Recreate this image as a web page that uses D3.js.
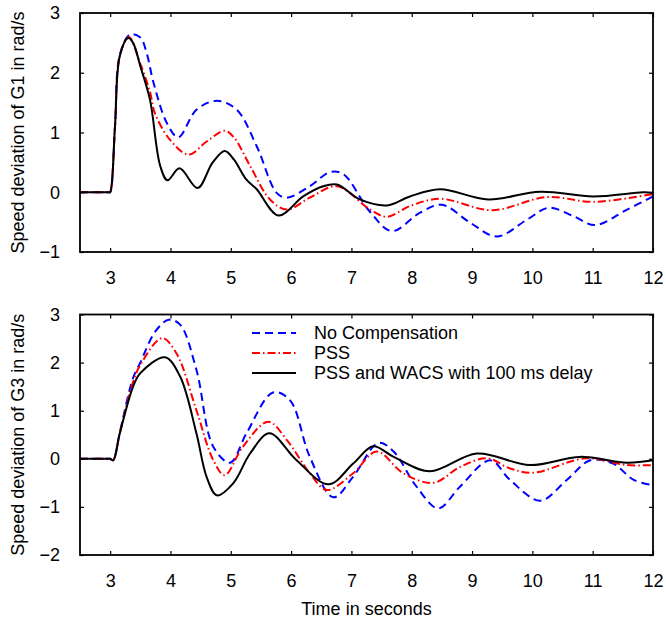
<!DOCTYPE html>
<html lang="en">
    <head>
        <meta charset="utf-8">
        <title>Speed deviation</title>
        <script type="text/javascript" src="https://cdn.jsdelivr.net/npm/d3@7"></script>
        <style type="text/css">
body { margin: 0; background: #ffffff; }
svg { font-family: "Liberation Sans", Arial, sans-serif; }
        </style>
    </head>
    <body>
        <script type="text/javascript">
var width=666;
var height=620;

// x ticks shared by both panels
var timeTicks=[3,4,5,6,7,8,9,10,11,12];
var g1Ticks=[-1,0,1,2,3];
var g3Ticks=[-2,-1,0,1,2,3];

// G1 speed deviation [time, rad/s]
var g1NoComp=[[2.5,0],[2.9,0],[2.98,0],[3.0,0],[3.08,1.1],[3.16,2.3],[3.33,2.64],[3.5,2.59],[3.6,2.35],[3.72,1.83],[3.94,1.16],[4.13,0.92],[4.43,1.38],[4.77,1.53],[5.10,1.38],[5.43,0.77],[5.76,-0.01],[5.93,-0.09],[6.31,0.10],[6.65,0.34],[6.87,0.30],[7.31,-0.33],[7.67,-0.65],[8.14,-0.34],[8.50,-0.21],[8.97,-0.51],[9.41,-0.74],[9.91,-0.46],[10.27,-0.26],[10.68,-0.40],[11.04,-0.55],[11.57,-0.29],[12,-0.07]];
var g1Pss=[[2.5,0],[2.9,0],[2.98,0],[3.0,0],[3.08,1.1],[3.16,2.28],[3.31,2.6],[3.5,2.15],[3.66,1.68],[3.74,1.33],[3.99,0.88],[4.30,0.63],[4.60,0.85],[4.90,1.03],[5.05,0.92],[5.32,0.44],[5.65,-0.12],[5.93,-0.29],[6.31,-0.09],[6.76,0.10],[7.31,-0.29],[7.59,-0.41],[7.97,-0.23],[8.47,-0.11],[9.33,-0.30],[10.24,-0.08],[11.01,-0.16],[12,-0.03]];
var g1Wacs=[[2.5,0],[2.9,0],[2.98,0],[3.0,0],[3.08,1.1],[3.16,2.28],[3.30,2.58],[3.38,2.5],[3.5,2.11],[3.66,1.55],[3.83,0.44],[3.95,0.20],[4.15,0.40],[4.45,0.07],[4.70,0.50],[4.90,0.69],[5.05,0.55],[5.26,0.21],[5.43,0.05],[5.79,-0.39],[6.20,-0.07],[6.53,0.10],[6.76,0.13],[7.14,-0.12],[7.59,-0.22],[7.97,-0.07],[8.47,0.05],[9.27,-0.12],[10.13,0.01],[11.01,-0.07],[11.84,0.0],[12,-0.01]];

// G3 speed deviation [time, rad/s]
var g3NoComp=[[2.5,0],[2.9,0],[2.98,0],[3.0,0],[3.05,-0.03],[3.16,0.55],[3.38,1.68],[3.5,2.0],[3.75,2.65],[3.97,2.89],[4.16,2.79],[4.43,1.85],[4.71,0.25],[4.99,-0.08],[5.26,0.53],[5.70,1.38],[5.98,1.22],[6.31,0.04],[6.70,-0.80],[7.03,-0.37],[7.45,0.33],[7.70,0.15],[8.08,-0.58],[8.44,-1.03],[8.80,-0.58],[9.30,-0.03],[9.63,-0.44],[10.13,-0.87],[10.57,-0.44],[10.96,-0.03],[11.34,-0.10],[11.68,-0.44],[12,-0.55]];
var g3Pss=[[2.5,0],[2.9,0],[2.98,0],[3.0,0],[3.05,-0.03],[3.16,0.53],[3.38,1.6],[3.5,1.95],[3.86,2.51],[4.10,2.19],[4.43,1.01],[4.71,-0.03],[4.90,-0.34],[5.20,0.25],[5.62,0.77],[5.93,0.39],[6.31,-0.30],[6.59,-0.65],[7.03,-0.30],[7.42,0.15],[7.86,-0.30],[8.36,-0.50],[8.80,-0.17],[9.25,0.01],[9.63,-0.20],[10.01,-0.29],[10.89,0.01],[11.57,-0.13],[12,-0.13]];
var g3Wacs=[[2.5,0],[2.9,0],[2.98,0],[3.0,0],[3.05,-0.03],[3.16,0.53],[3.38,1.5],[3.5,1.78],[3.91,2.11],[4.16,1.71],[4.43,0.53],[4.60,-0.38],[4.77,-0.76],[5.04,-0.51],[5.32,0.11],[5.64,0.53],[6.09,-0.03],[6.62,-0.53],[7.03,-0.10],[7.36,0.26],[7.70,0.04],[8.30,-0.26],[9.08,0.11],[9.96,-0.13],[10.79,0.04],[11.57,-0.08],[12,-0.03]];

var legendNames=["No Compensation","PSS","PSS and WACS with 100 ms delay"];

var styles=[
    {color:"#0000ff", dash:"8,5"},
    {color:"#ff0000", dash:"8,3,1.5,3"},
    {color:"#000000", dash:null}
];

var left=80, right=653;
var fontSize=18;

var svg=d3.select("body").append("svg").attr("width",width).attr("height",height);

var x=d3.scaleLinear().domain([2.5,12]).range([left,right]);

function draw_panel(top, bottom, yDomain, yTicks, series, label) {
    var y=d3.scaleLinear().domain(yDomain).range([bottom,top]);
    var g=svg.append("g");

    var line=d3.line()
        .x(function(d){ return x(d[0]); })
        .y(function(d){ return y(d[1]); })
        .curve(d3.curveCatmullRom.alpha(0.5));

    series.forEach(function(s,i){
        g.append("path").datum(s)
            .attr("fill","none")
            .attr("stroke",styles[i].color)
            .attr("stroke-width",2)
            .attr("stroke-dasharray",styles[i].dash)
            .attr("d",line);
    });

    // inward ticks on all four sides
    var axB=g.append("g").attr("transform","translate(0,"+bottom+")")
        .call(d3.axisBottom(x).tickValues(timeTicks).tickSizeInner(-4).tickSizeOuter(0).tickPadding(19));
    var axT=g.append("g").attr("transform","translate(0,"+top+")")
        .call(d3.axisTop(x).tickValues(timeTicks).tickSizeInner(-4).tickSizeOuter(0).tickFormat(""));
    var axL=g.append("g").attr("transform","translate("+left+",0)")
        .call(d3.axisLeft(y).tickValues(yTicks).tickSizeInner(-4).tickSizeOuter(0).tickPadding(20).tickFormat(d3.format("d")));
    var axR=g.append("g").attr("transform","translate("+right+",0)")
        .call(d3.axisRight(y).tickValues(yTicks).tickSizeInner(-4).tickSizeOuter(0).tickFormat(""));

    [axB,axT,axL,axR].forEach(function(a){
        a.select(".domain").remove();
        a.selectAll("line").attr("stroke","#000").attr("stroke-width",1.2);
        a.selectAll("text").attr("font-size",fontSize).attr("font-family","Liberation Sans, Arial, sans-serif").attr("fill","#000");
    });
    axL.selectAll("text").text(function(d){ return d<0 ? "\u2212"+Math.abs(d) : d; });

    g.append("rect").attr("x",left).attr("y",top).attr("width",right-left).attr("height",bottom-top)
        .attr("fill","none").attr("stroke","#000").attr("stroke-width",1.8);

    g.append("text")
        .attr("transform","translate(24,"+((top+bottom)/2)+") rotate(-90)")
        .attr("text-anchor","middle").attr("font-size",fontSize)
        .text(label);
    return y;
}

draw_panel(13, 252, [-1,3], g1Ticks, [g1NoComp,g1Pss,g1Wacs], "Speed deviation of G1 in rad/s");
draw_panel(314.5, 555, [-2,3], g3Ticks, [g3NoComp,g3Pss,g3Wacs], "Speed deviation of G3 in rad/s");

svg.append("text").attr("x",(left+right)/2).attr("y",615)
    .attr("text-anchor","middle").attr("font-size",fontSize)
    .text("Time in seconds");

// legend
var legend=svg.append("g").attr("transform","translate(252,333)");
legendNames.forEach(function(name,i){
    legend.append("line").attr("x1",0).attr("x2",44).attr("y1",i*20).attr("y2",i*20)
        .attr("stroke",styles[i].color).attr("stroke-width",2).attr("stroke-dasharray",styles[i].dash);
    legend.append("text").attr("x",62).attr("y",i*20).attr("dy","0.35em")
        .attr("font-size",fontSize).text(name);
});
        </script>
    </body>
</html>
